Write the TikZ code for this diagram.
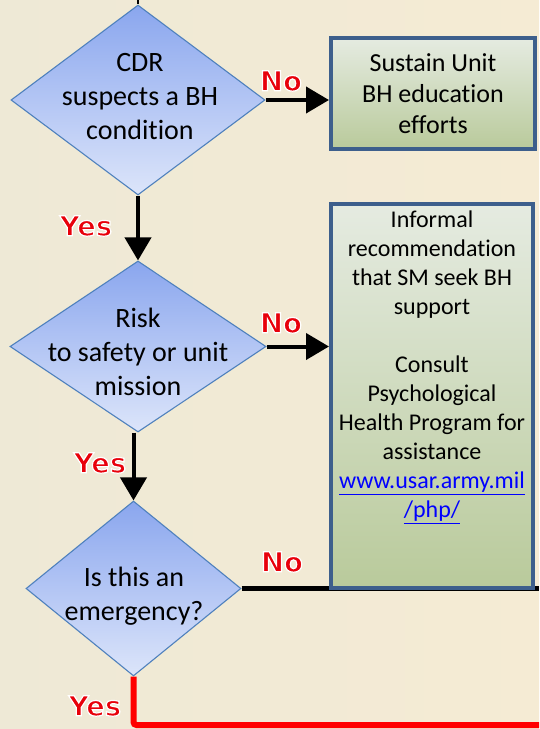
\documentclass[tikz,border=0pt]{standalone}
\usepackage{fontspec}
\setmainfont{Carlito}[Ligatures=NoCommon]
\newfontface\lblfont{DejaVu Sans Bold}
\usetikzlibrary{shapes.geometric,arrows.meta}
\definecolor{bgL}{HTML}{EEE9D6}
\definecolor{bgR}{HTML}{F5EBD4}
\definecolor{dtop}{HTML}{8AA6EE}
\definecolor{dbot}{HTML}{DCE5FA}
\definecolor{dline}{HTML}{4F81BD}
\definecolor{btop}{HTML}{E5EBE1}
\definecolor{bbot}{HTML}{B9CA9B}
\definecolor{bline}{HTML}{3D5F8C}
\definecolor{lblred}{HTML}{E8000B}
\definecolor{linkblue}{HTML}{0000FF}
\newcommand\halotext[1]{\special{pdf:literal direct 1 1 1 RG 1.2 w 2 Tr}#1\special{pdf:literal direct 0 Tr}}
\tikzset{
  decision/.style={shape=diamond, draw=dline, line width=1.1pt, top color=dtop, bottom color=dbot, inner sep=-80pt},
  dtext/.style={align=center, font=\fontsize{28}{34}\selectfont, inner sep=0pt},
  actbox/.style={rectangle, draw=bline, line width=4pt, top color=btop, bottom color=bbot, inner sep=0pt},
  flow/.style={line width=4pt, -{Triangle[length=23pt,width=26pt]}},
  lbl/.style={font=\lblfont\fontsize{27.5}{32}\selectfont, text=lblred, inner sep=0pt},
}
\begin{document}
\begin{tikzpicture}[x=1pt,y=-1pt]
\useasboundingbox (0,0) rectangle (539,729);
\shade[left color=bgL, right color=bgR] (0,0) rectangle (539,729);
% decisions
\node[decision, minimum width=254pt, minimum height=190pt] (d1) at (138,100) {};
\node[decision, minimum width=256pt, minimum height=171pt] (d2) at (138,346.5) {};
\node[decision, minimum width=215pt, minimum height=175pt] (d3) at (133.5,588.5) {};
\node[dtext] (d1t) at (140,97) {CDR\\suspects a BH\\condition};
\node[dtext] (d2t) at (138,352) {Risk\\to safety or unit\\mission};
\node[dtext] (d3t) at (134,596) {Is this an\\emergency?};
% lines under the boxes
\coordinate (top) at (138,0);
\coordinate (r3) at (539,588.5);
\coordinate (r4) at (539,725);
\draw[line width=1.5pt] (top) -- (d1.north);
\draw[line width=5pt] (d3.east) -- (r3);
\draw[line width=6pt, color=red, rounded corners=3pt] (d3.south) |- (r4);
% boxes
\node[actbox, minimum width=204pt, minimum height=111pt, align=center,
      font=\fontsize{26}{31}\selectfont] (b1) at (433,93.5) {Sustain Unit\\BH education\\efforts};
\node[actbox, minimum width=202pt, minimum height=384pt] (b2) at (432,396) {};
\node[align=center, font=\fontsize{24}{29}\selectfont, inner sep=0pt, anchor=north] (b2t) at (432,211)
  {Informal\\recommendation\\that SM seek BH\\support\\[29pt]Consult\\Psychological\\Health Program for\\assistance\\
   {\color{linkblue}\underline{www.usar.army.mil}}\\{\color{linkblue}\underline{/php/}}};
% connectors
\draw[flow] (d1.east) -- (d1.east -| b1.west);
\draw[flow] (d1.south) -- (d2.north);
\draw[flow] (d2.east) -- (d2.east -| b2.west);
\draw[flow] (d3.north |- d2.south) -- (d3.north);
% labels
\node[lbl] (n1) at (281,81) {\halotext{No}};
\node[lbl] (y1) at (86,226) {\halotext{Yes}};
\node[lbl] (n2) at (281,323) {\halotext{No}};
\node[lbl] (y2) at (100,463) {\halotext{Yes}};
\node[lbl] (n3) at (282,562) {\halotext{No}};
\node[lbl] (y3) at (95,706) {\halotext{Yes}};
\end{tikzpicture}
\end{document}
